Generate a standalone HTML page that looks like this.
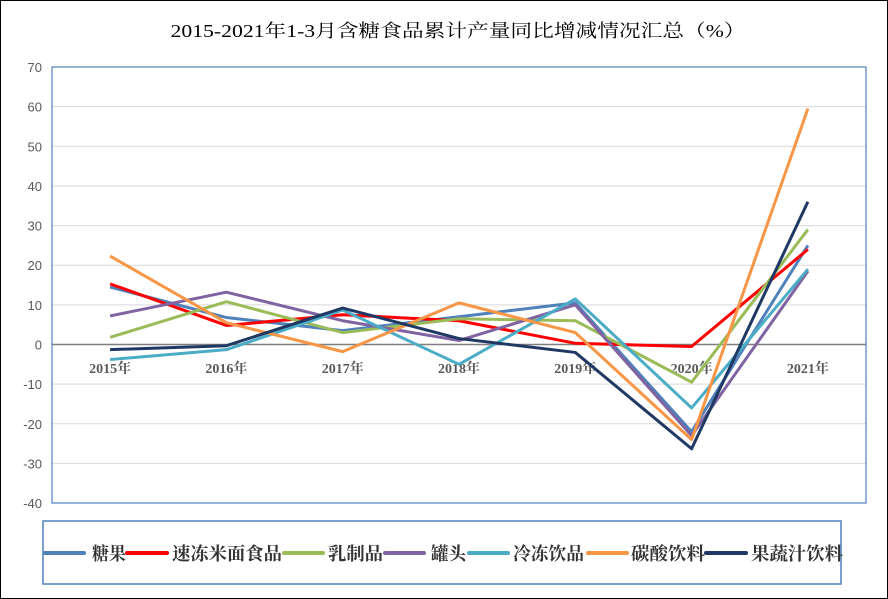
<!DOCTYPE html>
<html><head><meta charset="utf-8"><style>
body{margin:0;background:#fff}
svg{display:block;font-family:"Liberation Serif","Noto Serif CJK SC",serif}
</style></head><body>
<svg id="s" width="888" height="599" xmlns="http://www.w3.org/2000/svg">
<rect x="0.5" y="0.5" width="887" height="598" fill="#fff" stroke="#000"/>
<text x="458" y="37" text-anchor="middle" font-size="18" fill="#000" textLength="575" lengthAdjust="spacingAndGlyphs">2015-2021年1-3月含糖食品累计产量同比增减情况汇总（%）</text>
<g id="grid"></g>
<rect x="52" y="67" width="814" height="436" fill="none" stroke="#4F81BD" stroke-width="1.2"/>
<g id="lines"></g>
<rect x="43" y="521" width="798" height="63" fill="none" stroke="#4F81BD" stroke-width="1.5"/>
<g id="leg" font-size="18" font-weight="bold" fill="#333"></g>
</svg>
<script>
const ns="http://www.w3.org/2000/svg";
function el(t,a,p,txt){const e=document.createElementNS(ns,t);for(const k in a)e.setAttribute(k,a[k]);if(txt!=null)e.textContent=txt;p.appendChild(e);return e;}
const Y=v=>344.5-v*3.964, X=i=>110.1+116.3*i;
const g=document.getElementById('grid');
for(let v=70;v>=-40;v-=10){
 if(v!==70&&v!==-40&&v!==0) el('line',{x1:52,x2:866,y1:Y(v),y2:Y(v),stroke:'#d9d9d9'},g);
 el('text',{x:42,y:Y(v)+5,'text-anchor':'end','font-size':13,fill:'#595959','font-family':'Liberation Sans, sans-serif'},g,v);
}
el('line',{x1:52,x2:866,y1:Y(0),y2:Y(0),stroke:'#7f7f7f','stroke-width':1.5},g);
for(let i=0;i<7;i++) el('text',{x:X(i),y:373,'text-anchor':'middle','font-size':14,'font-weight':'bold',fill:'#595959'},g,(2015+i)+'年');
const S=[
['糖果','#4F81BD',[14.5,6.8,3.5,7,10.5,-22,25]],
['速冻米面食品','#FF0000',[15.3,4.8,7.5,6,0.3,-0.5,24]],
['乳制品','#9BBB59',[1.8,10.8,3,6.5,6,-9.5,29]],
['罐头','#8064A2',[7.2,13.2,6,1,10,-23,18.5]],
['冷冻饮品','#4BACC6',[-3.8,-1.3,8.7,-5,11.5,-16,19]],
['碳酸饮料','#F79646',[22.3,5.5,-1.8,10.5,3,-24,59.5]],
['果蔬汁饮料','#1F3864',[-1.3,-0.3,9.2,1.5,-2,-26.3,36]]];
const L=document.getElementById('lines');
S.forEach(s=>el('polyline',{points:s[2].map((v,i)=>X(i)+','+Y(v)).join(' '),fill:'none',stroke:s[1],'stroke-width':3,'stroke-linejoin':'round'},L));
const lg=document.getElementById('leg');
const lx=[[45,84,92,34],[127,167,172,110],[284,323,328,55],[385,424,431,35],[469,508,513,71],[588,627,631,74],[706,746,751,92]];
S.forEach((s,i)=>{el('line',{x1:lx[i][0],x2:lx[i][1],y1:553,y2:553,stroke:s[1],'stroke-width':4,'stroke-linecap':'round'},lg);
 el('text',{x:lx[i][2],y:560,textLength:lx[i][3],lengthAdjust:'spacingAndGlyphs'},lg,s[0]);});
</script>
</body></html>
